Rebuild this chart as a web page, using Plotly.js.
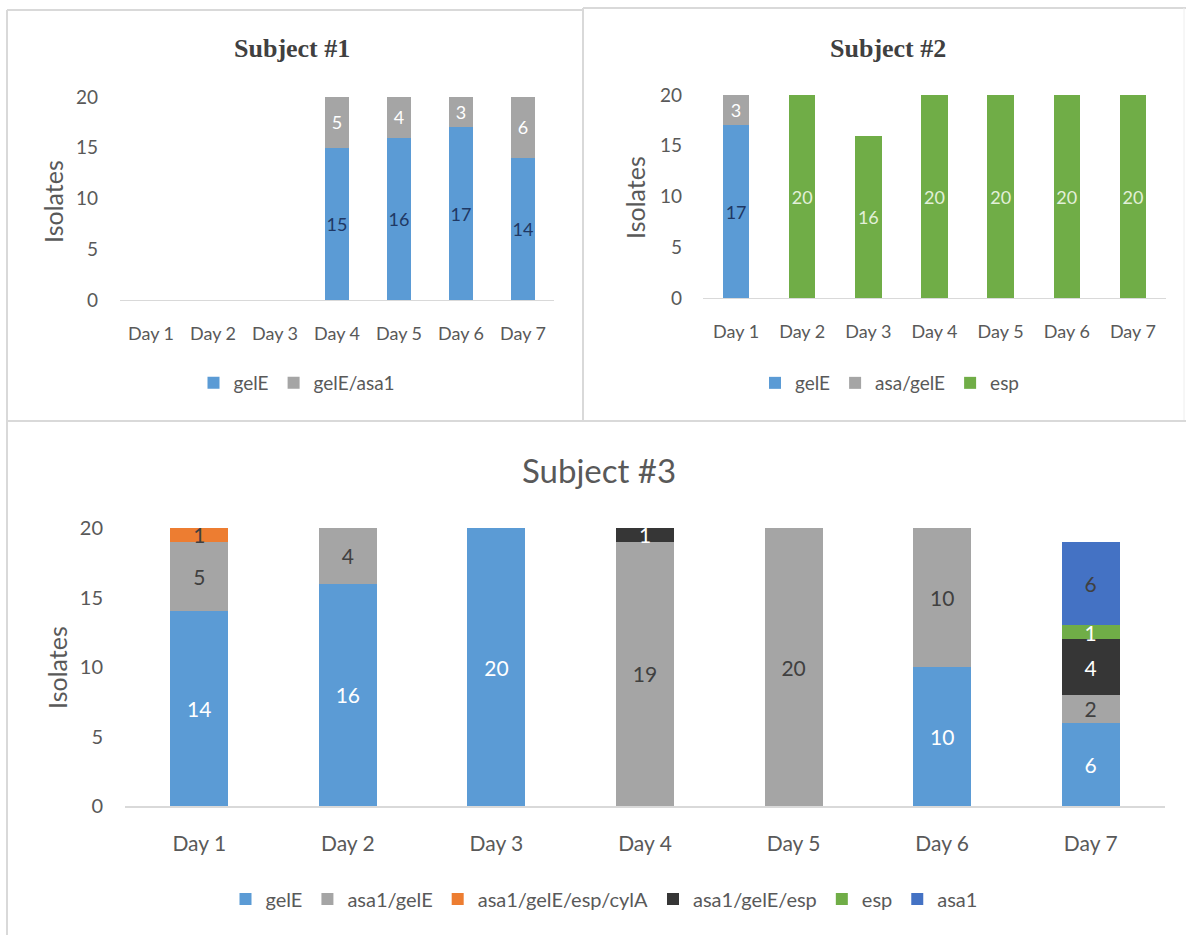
<!DOCTYPE html>
<html>
<head>
<meta charset="utf-8">
<script src="https://cdn.plot.ly/plotly-3.0.1.min.js"></script>
<style>
html,body{margin:0;padding:0;background:#fff;}
#chart{width:1186px;height:935px;}
</style>
</head>
<body>
<div id="chart"></div>
<script>
// ---- Data ----
const days = ['Day 1', 'Day 2', 'Day 3', 'Day 4', 'Day 5', 'Day 6', 'Day 7'];

// Subject #1
const s1_gelE     = [null, null, null, 15, 16, 17, 14];
const s1_gelEasa1 = [null, null, null, 5, 4, 3, 6];

// Subject #2
const s2_gelE    = [17, null, null, null, null, null, null];
const s2_asaGelE = [3, null, null, null, null, null, null];
const s2_esp     = [null, 20, 16, 20, 20, 20, 20];

// Subject #3
const s3_gelE           = [14, 16, 20, null, null, 10, 6];
const s3_asa1gelE       = [5, 4, null, 19, 20, 10, 2];
const s3_asa1gelEespCyl = [1, null, null, null, null, null, null];
const s3_asa1gelEesp    = [null, null, null, 1, null, null, 4];
const s3_esp            = [null, null, null, null, null, null, 1];
const s3_asa1           = [null, null, null, null, null, null, 6];

// ---- Styles ----
const C = {
  blue: '#5B9BD5', gray: '#A5A5A5', orange: '#ED7D31',
  dark: '#363636', green: '#70AD47', navy: '#4472C4'
};
const W = 1186, H = 935;
const px = v => v / W;
const py = v => 1 - v / H;
const FONT = 'Lato, "Open Sans", sans-serif';
const TXT = '#595959';

function bar(name, y, color, xa, ya, legend, width, tcolor, tsize) {
  return {
    type: 'bar', name: name, x: days, y: y,
    xaxis: xa, yaxis: ya, legend: legend,
    marker: {color: color},
    width: width,
    texttemplate: '%{y}', textposition: 'inside', textangle: 0,
    insidetextanchor: 'middle', constraintext: 'none',
    textfont: {family: FONT, size: tsize, color: tcolor},
    hoverinfo: 'skip'
  };
}

const data = [
  bar('gelE', s1_gelE, C.blue, 'x', 'y', 'legend', 0.4, '#1F3864', 18),
  bar('gelE/asa1', s1_gelEasa1, C.gray, 'x', 'y', 'legend', 0.4, '#FFFFFF', 18),

  bar('gelE', s2_gelE, C.blue, 'x2', 'y2', 'legend2', 0.4, '#1F3864', 18),
  bar('asa/gelE', s2_asaGelE, C.gray, 'x2', 'y2', 'legend2', 0.4, '#FFFFFF', 18),
  bar('esp', s2_esp, C.green, 'x2', 'y2', 'legend2', 0.4, '#E2F0D9', 18),

  bar('gelE', s3_gelE, C.blue, 'x3', 'y3', 'legend3', 0.39, '#FFFFFF', 21),
  bar('asa1/gelE', s3_asa1gelE, C.gray, 'x3', 'y3', 'legend3', 0.39, '#404040', 21),
  bar('asa1/gelE/esp/cylA', s3_asa1gelEespCyl, C.orange, 'x3', 'y3', 'legend3', 0.39, '#404040', 21),
  bar('asa1/gelE/esp', s3_asa1gelEesp, C.dark, 'x3', 'y3', 'legend3', 0.39, '#FFFFFF', 21),
  bar('esp', s3_esp, C.green, 'x3', 'y3', 'legend3', 0.39, '#FFFFFF', 21),
  bar('asa1', s3_asa1, C.navy, 'x3', 'y3', 'legend3', 0.39, '#404040', 21)
];

function xax(domain, ya, lw, fsize, standoff) {
  return {
    domain: domain, anchor: ya, type: 'category', showgrid: false, zeroline: false,
    showline: true, linecolor: '#D9D9D9', linewidth: lw, ticks: '',
    tickfont: {family: FONT, size: fsize, color: TXT},
    ticklabelstandoff: standoff, fixedrange: true
  };
}
function yax(domain, xa, fsize, standoff) {
  return {
    domain: domain, anchor: xa, range: [0, 20], dtick: 5, tick0: 0,
    showgrid: false, zeroline: false, showline: false, ticks: '',
    tickfont: {family: FONT, size: fsize, color: TXT},
    ticklabelstandoff: standoff, fixedrange: true
  };
}

function legend(xc, yc, fsize, iw) {
  return {
    orientation: 'h', x: xc, y: yc, xanchor: 'center', yanchor: 'middle',
    font: {family: FONT, size: fsize, color: TXT},
    bgcolor: 'rgba(0,0,0,0)', traceorder: 'normal', itemclick: false,
    itemwidth: iw || 30
  };
}

function line(x0, y0, x1, y1, color, w) {
  return {type: 'line', xref: 'paper', yref: 'paper',
    x0: px(x0), y0: py(y0), x1: px(x1), y1: py(y1),
    line: {color: color || '#D9D9D9', width: w || 2}};
}

function ann(text, x, y, size, opts) {
  return Object.assign({
    text: text, xref: 'paper', yref: 'paper', x: px(x), y: py(y),
    xanchor: 'center', yanchor: 'middle', showarrow: false,
    font: {family: FONT, size: size, color: TXT}
  }, opts || {});
}

const SERIF = {family: '"Liberation Serif", serif', size: 26, color: '#404040'};

const layout = {
  width: W, height: H,
  margin: {l: 0, r: 0, t: 0, b: 0},
  paper_bgcolor: '#FFFFFF', plot_bgcolor: 'rgba(0,0,0,0)',
  barmode: 'stack', showlegend: true,
  xaxis:  xax([px(120), px(554)], 'y', 1, 18, 17),
  yaxis:  yax([py(300), py(97)], 'x', 19, 21),
  xaxis2: xax([px(703), px(1166)], 'y2', 1, 18, 17),
  yaxis2: yax([py(298), py(95)], 'x2', 19, 20),
  xaxis3: xax([px(125), px(1165)], 'y3', 2, 21, 18),
  yaxis3: yax([py(806), py(528)], 'x3', 20, 21),
  legend:  legend(px(297), py(383), 19),
  legend2: legend(px(890), py(383), 19),
  legend3: legend(px(604), py(899), 20),
  shapes: [
    line(7, 10, 7, 935),
    line(7, 10, 583, 10),
    line(583, 8, 583, 421),
    line(583, 8, 1186, 8),
    line(1184, 8, 1184, 421, '#EEEEEE', 1),
    line(7, 421, 1186, 421)
  ],
  annotations: [
    ann('<b>Subject #1</b>', 292, 48, 26, {font: SERIF}),
    ann('<b>Subject #2</b>', 888, 48, 26, {font: SERIF}),
    ann('Subject #3', 599, 470, 33),
    ann('Isolates', 53, 202, 25, {textangle: -90}),
    ann('Isolates', 635, 198, 25, {textangle: -90}),
    ann('Isolates', 57, 667, 25, {textangle: -90})
  ]
};

Plotly.newPlot('chart', data, layout, {staticPlot: true, displayModeBar: false});
</script>
</body>
</html>
